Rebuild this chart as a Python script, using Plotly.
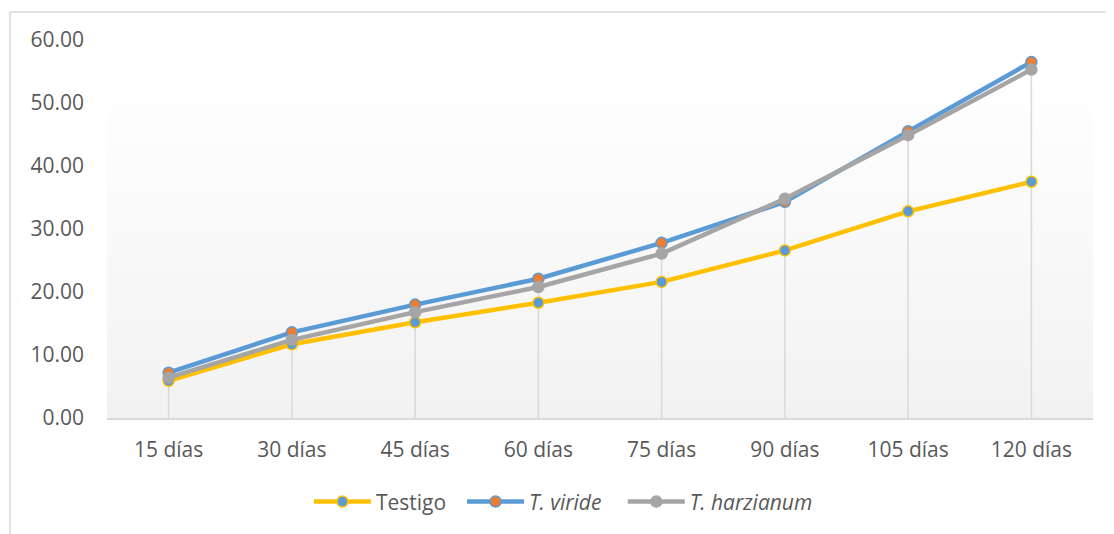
import base64
import plotly.graph_objects as go

categories = ["15 días", "30 días", "45 días", "60 días", "75 días", "90 días", "105 días", "120 días"]
testigo = [5.9, 11.7, 15.2, 18.3, 21.6, 26.6, 32.8, 37.5]
t_viride = [7.2, 13.6, 18.0, 22.1, 27.8, 34.3, 45.5, 56.5]
t_harzianum = [6.4, 12.4, 16.8, 20.8, 26.1, 34.8, 44.9, 55.3]
y_ticks = [0, 10, 20, 30, 40, 50, 60]
y_tick_labels = ["0.00", "10.00", "20.00", "30.00", "40.00", "50.00", "60.00"]

FONT = "Open Sans"
TXT = "#595959"
FS = 21
NB = "\u00a0"

# drop lines from the highest point to the axis
tops = [max(a, b, c) for a, b, c in zip(testigo, t_viride, t_harzianum)]
dx, dy = [], []
for c, t in zip(categories, tops):
    dx += [c, c, None]
    dy += [0, t, None]

fig = go.Figure()
fig.add_trace(go.Scatter(x=dx, y=dy, mode="lines", line=dict(color="#d9d9d9", width=1.5),
                         showlegend=False, hoverinfo="skip"))

series = [
    ("Testigo" + NB * 2, testigo, "#FFC000", "#5B9BD5"),
    ("<i>T. viride</i>" + NB * 3, t_viride, "#5B9BD5", "#ED7D31"),
    ("<i>T. harzianum</i>", t_harzianum, "#A5A5A5", "#A5A5A5"),
]
for name, vals, lc, mc in series:
    fig.add_trace(go.Scatter(
        x=categories, y=vals, name=name, mode="lines+markers",
        line=dict(color=lc, width=4.5),
        marker=dict(size=11, color=mc, line=dict(color=lc, width=1.5)),
    ))

svg = ('<svg xmlns="http://www.w3.org/2000/svg" width="100" height="100" preserveAspectRatio="none">'
       '<defs><linearGradient id="g" x1="0" y1="0" x2="0" y2="1">'
       '<stop offset="0" stop-color="#ffffff"/><stop offset="0.1" stop-color="#ffffff"/>'
       '<stop offset="1" stop-color="#f2f2f2"/>'
       '</linearGradient></defs><rect width="100" height="100" fill="url(#g)"/></svg>')
uri = "data:image/svg+xml;base64," + base64.b64encode(svg.encode()).decode()

fig.update_layout(
    width=1106, height=526,
    margin=dict(l=99, r=21, t=32, b=116),
    paper_bgcolor="white", plot_bgcolor="rgba(0,0,0,0)",
    font=dict(family=FONT, size=FS, color=TXT),
    images=[dict(source=uri, xref="paper", yref="paper", x=0, y=1, sizex=1, sizey=1,
                 sizing="stretch", layer="below", xanchor="left", yanchor="top")],
    xaxis=dict(type="category", range=[-0.5, 7.5], showgrid=False, showline=True,
               linecolor="#d9d9d9", linewidth=1.5, ticks="", ticklabelstandoff=12,
               tickfont=dict(size=FS, color=TXT), zeroline=False),
    yaxis=dict(range=[0, 60], tickvals=y_ticks, ticktext=y_tick_labels, showgrid=False,
               zeroline=False, showline=False, ticks="", ticklabelstandoff=22,
               tickfont=dict(size=FS, color=TXT)),
    legend=dict(orientation="h", x=0.2048, xanchor="left", y=-0.222, yanchor="middle",
                itemwidth=57, tracegroupgap=0,
                font=dict(size=FS, color=TXT), bgcolor="rgba(0,0,0,0)"),
    shapes=[
        dict(type="line", xref="paper", yref="paper", x0=-0.0984, x1=-0.0984, y0=-0.5, y1=1.074,
             line=dict(color="#d9d9d9", width=1.5)),
        dict(type="line", xref="paper", yref="paper", x0=-0.0984, x1=1.2, y0=1.074, y1=1.074,
             line=dict(color="#d9d9d9", width=1.5)),
    ],
)

fig.write_html("out.html")
